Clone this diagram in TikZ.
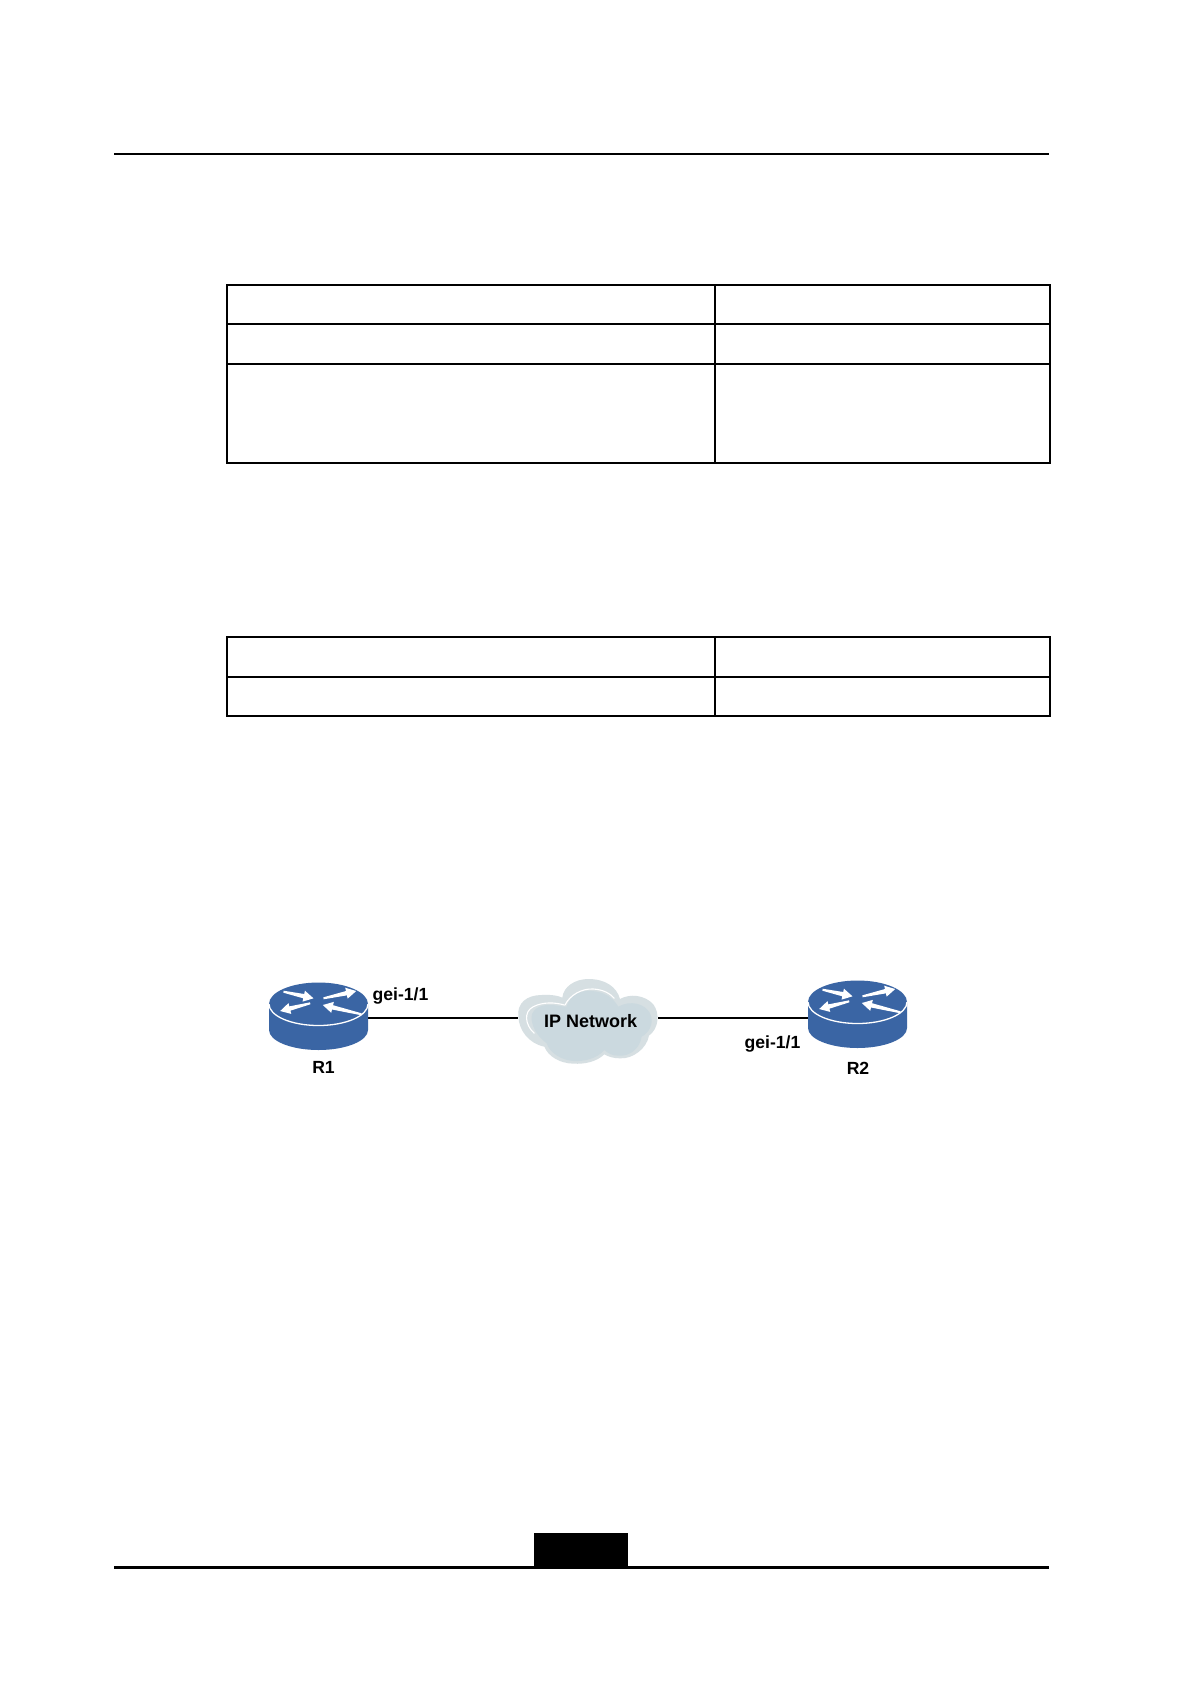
\documentclass[tikz,border=0pt]{standalone}
\usepackage{fontspec}
\setmainfont{Liberation Sans}
\usetikzlibrary{calc}
\definecolor{routerblue}{HTML}{3A65A4}
\definecolor{cloudouter}{HTML}{D6DFE2}
\definecolor{cloudinner}{HTML}{CBD9DF}
\tikzset{
  rule/.style={line width=2pt,black},
  cellline/.style={line width=2.3pt,black},
  lbl/.style={font=\fontsize{17.6pt}{20pt}\selectfont\bfseries,inner sep=0pt,text=black},
  anchorbox/.style={inner sep=0pt,outer sep=0pt},
  wire/.style={line width=2.3pt,black}
}
% tapered white arrow: tail x,y -- tip x,y
\newcommand\rarr[4]{%
  \coordinate (ta) at (#1,#2);
  \coordinate (tb) at (#3,#4);
  \coordinate (tn) at ($(tb)!10pt!(ta)$);
  \fill[white] ($(ta)!1pt!90:(tb)$) -- ($(tn)!2.2pt!90:(tb)$) -- ($(tn)!5.6pt!90:(tb)$)
     -- (tb) -- ($(tn)!5.6pt!-90:(tb)$) -- ($(tn)!2.2pt!-90:(tb)$) -- ($(ta)!1pt!-90:(tb)$) -- cycle;
}
\newcommand\routericon[2]{%
  \begin{scope}[shift={(#1,#2)}]
    \fill[routerblue] (-49.5,0) -- (-49.5,26)
       .. controls (-49.5,37) and (-27.3,46) .. (0,46)
       .. controls (27.3,46) and (49.5,37) .. (49.5,26)
       -- (49.5,0)
       .. controls (49.5,-11.9) and (27.3,-21.5) .. (0,-21.5)
       .. controls (-27.3,-21.5) and (-49.5,-11.9) .. (-49.5,0) -- cycle;
    \draw[white,line width=1.3pt] (-49.5,0)
       .. controls (-49.5,11.9) and (-27.3,21.5) .. (0,21.5)
       .. controls (27.3,21.5) and (49.5,11.9) .. (49.5,0);
    \rarr{-35}{-12.3}{-5}{-5.7}
    \rarr{-8.3}{-0.7}{-38.3}{7}
    \rarr{5}{-5.7}{37.7}{-13}
    \rarr{43}{10.3}{4.3}{1}
  \end{scope}
}
\begin{document}
\begin{tikzpicture}[x=1pt,y=-1pt]
\useasboundingbox (0,0) rectangle (1191,1684);
\fill[white] (0,0) rectangle (1191,1684);

% page rules
\draw[rule] (114,154) -- (1049,154);
\draw[rule,line width=3pt] (114,1567.5) -- (1049,1567.5);
\fill[black] (534,1533) rectangle (628,1569);

% table 1
\draw[cellline] (227,285) rectangle (1050,463);
\draw[cellline] (227,324) -- (1050,324);
\draw[cellline] (227,364) -- (1050,364);
\draw[cellline] (715,285) -- (715,463);

% table 2
\draw[cellline] (227,637) rectangle (1050,716);
\draw[cellline] (227,677) -- (1050,677);
\draw[cellline] (715,637) -- (715,716);

% anchors for the connectors
\node[anchorbox,minimum width=99pt,minimum height=64pt] (r1) at (318.5,1018) {};
\node[anchorbox,minimum width=99pt,minimum height=64pt] (r2) at (857.5,1018) {};
\node[anchorbox,minimum width=140pt,minimum height=84pt] (cloud) at (588,1018) {};

\draw[wire] (r1.east) -- (cloud.west);
\draw[wire] (cloud.east) -- (r2.west);

% routers
\routericon{318.5}{1004}
\routericon{857.5}{1002}

% cloud
\begin{scope}[shift={(505,965)},x=0.3333pt,y=-0.3333pt]
  \fill[cloudouter] (40,155)
    .. controls (35,115) and (65,90) .. (110,90)
    .. controls (135,88) and (160,92) .. (172,98)
    .. controls (175,65) and (210,42) .. (250,42)
    .. controls (300,42) and (335,65) .. (345,102)
    .. controls (375,85) and (420,90) .. (445,118)
    .. controls (465,145) and (462,190) .. (432,212)
    .. controls (425,250) and (385,282) .. (345,280)
    .. controls (325,280) and (310,275) .. (298,268)
    .. controls (275,290) and (240,298) .. (205,296)
    .. controls (165,295) and (130,275) .. (118,245)
    .. controls (70,235) and (42,195) .. (40,155) -- cycle;
  \fill[cloudinner] (80,165)
    .. controls (75,135) and (105,118) .. (135,120)
    .. controls (155,120) and (170,125) .. (185,125)
    .. controls (195,90) and (225,75) .. (260,78)
    .. controls (300,80) and (325,100) .. (340,125)
    .. controls (375,105) and (420,115) .. (435,145)
    .. controls (450,175) and (430,205) .. (410,215)
    .. controls (405,250) and (375,275) .. (340,272)
    .. controls (320,272) and (310,265) .. (298,255)
    .. controls (275,282) and (235,290) .. (205,288)
    .. controls (170,285) and (135,265) .. (125,235)
    .. controls (100,215) and (85,195) .. (80,165) -- cycle;
  \draw[white,line width=1.1pt,line cap=round] (88,205)
    .. controls (60,180) and (55,140) .. (85,125)
    .. controls (115,110) and (150,112) .. (178,120);
  \draw[white,line width=1.1pt,line cap=round] (180,120)
    .. controls (195,90) and (230,70) .. (265,72)
    .. controls (295,74) and (315,85) .. (328,100);
\end{scope}
\node[lbl,font=\fontsize{18pt}{20pt}\selectfont\bfseries] (cloudtext) at (590.7,1021) {IP Network};

% labels
\node[lbl] (l1) at (400.5,996) {gei-1/1};
\node[lbl] (l2) at (772.5,1044) {gei-1/1};
\node[lbl] (lr1) at (323.5,1067) {R1};
\node[lbl] (lr2) at (858,1068.5) {R2};
\end{tikzpicture}
\end{document}
